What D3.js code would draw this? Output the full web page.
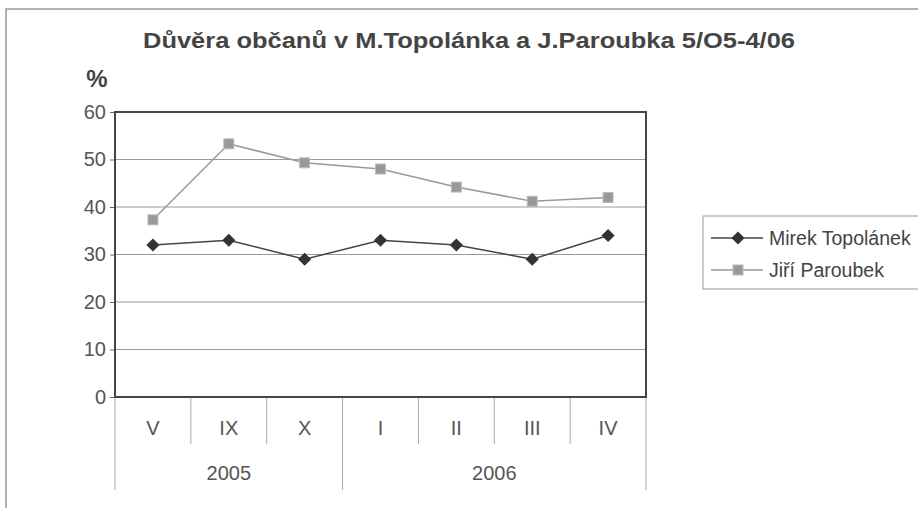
<!DOCTYPE html>
<html>
<head>
<meta charset="utf-8">
<script src="https://cdn.jsdelivr.net/npm/d3@7"></script>
<style>
  body { margin: 0; background: #fff; }
  svg text { font-family: "Liberation Sans", Arial, sans-serif; }
</style>
</head>
<body>
<div id="chart"></div>
<script>
// data
const months = ["V", "IX", "X", "I", "II", "III", "IV"];
const years = [{ label: "2005", from: 0, to: 3 }, { label: "2006", from: 3, to: 7 }];
const topolanek = [32, 33, 29, 33, 32, 29, 34];
const paroubek = [37.3, 53.3, 49.3, 48, 44.2, 41.2, 42];
const seriesNames = ["Mirek Topolánek", "Jiří Paroubek"];
const yTicks = [0, 10, 20, 30, 40, 50, 60];

const W = 918, H = 508;
const margin = { left: 115, right: 272, top: 112, bottom: 111 };
const width = W - margin.left - margin.right;
const height = H - margin.top - margin.bottom;

const svg = d3.select("#chart").append("svg")
    .attr("width", W).attr("height", H);

// outer chart frame (cut at right/bottom)
svg.append("path")
    .attr("d", `M6,${H + 2}V9H${W + 2}`)
    .attr("fill", "none").attr("stroke", "#999").attr("stroke-width", 1.5);

svg.append("text")
    .attr("x", 469).attr("y", 48)
    .attr("text-anchor", "middle")
    .attr("font-size", 22).attr("font-weight", "bold")
    .attr("fill", "#444")
    .attr("textLength", 652).attr("lengthAdjust", "spacingAndGlyphs")
    .text("Důvěra občanů v M.Topolánka a J.Paroubka 5/O5-4/06");

svg.append("text")
    .attr("x", 97).attr("y", 87)
    .attr("text-anchor", "middle")
    .attr("font-size", 24).attr("font-weight", "bold")
    .attr("fill", "#444")
    .text("%");

const g = svg.append("g").attr("transform", `translate(${margin.left},${margin.top})`);

const x = d3.scaleBand().domain(d3.range(months.length)).range([0, width]);
const y = d3.scaleLinear().domain([0, 60]).range([height, 0]);

// gridlines
g.selectAll(".grid").data(yTicks.filter(d => d > 0 && d < 60)).join("line")
    .attr("x1", 0).attr("x2", width)
    .attr("y1", d => y(d)).attr("y2", d => y(d))
    .attr("stroke", "#999").attr("stroke-width", 1);

// y axis
const yAxis = g.append("g").call(d3.axisLeft(y).tickValues(yTicks).tickSize(5).tickPadding(4));
yAxis.select(".domain").remove();
yAxis.selectAll(".tick line").attr("stroke", "#666");
yAxis.selectAll(".tick text").attr("font-size", 20).attr("fill", "#555")
    .attr("font-family", "Liberation Sans, Arial, sans-serif");

// category axis: month separators and labels
const bottom = g.append("g").attr("transform", `translate(0,${height})`);
bottom.selectAll(".msep").data(d3.range(months.length + 1)).join("line")
    .attr("x1", i => i === months.length ? width : x(i))
    .attr("x2", i => i === months.length ? width : x(i))
    .attr("y1", 0)
    .attr("y2", i => years.some(yr => yr.from === i || yr.to === i) ? 93 : 47)
    .attr("stroke", "#aaa").attr("stroke-width", 1);
bottom.selectAll(".mlab").data(months).join("text")
    .attr("x", (d, i) => x(i) + x.bandwidth() / 2).attr("y", 38)
    .attr("text-anchor", "middle").attr("font-size", 20).attr("fill", "#555")
    .text(d => d);
bottom.selectAll(".ylab").data(years).join("text")
    .attr("x", d => (x(d.from) + (d.to === months.length ? width : x(d.to))) / 2)
    .attr("y", 83)
    .attr("text-anchor", "middle").attr("font-size", 20).attr("fill", "#555")
    .text(d => d.label);

// plot border
g.append("rect").attr("width", width).attr("height", height)
    .attr("fill", "none").attr("stroke", "#444").attr("stroke-width", 2);

const line = d3.line().x((d, i) => x(i) + x.bandwidth() / 2).y(d => y(d));

// Paroubek
g.append("path").datum(paroubek).attr("d", line)
    .attr("fill", "none").attr("stroke", "#999").attr("stroke-width", 1.5);
g.selectAll(".sq").data(paroubek).join("rect")
    .attr("x", (d, i) => x(i) + x.bandwidth() / 2 - 5)
    .attr("y", d => y(d) - 5)
    .attr("width", 10).attr("height", 10)
    .attr("fill", "#999").attr("stroke", "#bbb").attr("stroke-width", 1);

// Topolánek
g.append("path").datum(topolanek).attr("d", line)
    .attr("fill", "none").attr("stroke", "#444").attr("stroke-width", 1.5);
const diamond = d3.symbol().type(d3.symbolDiamond2).size(110);
g.selectAll(".dm").data(topolanek).join("path")
    .attr("transform", (d, i) => `translate(${x(i) + x.bandwidth() / 2},${y(d)})`)
    .attr("d", diamond)
    .attr("fill", "#333");

// legend
const lg = svg.append("g").attr("transform", "translate(703,216)");
lg.append("rect").attr("width", 230).attr("height", 73)
    .attr("fill", "#fff").attr("stroke", "#999").attr("stroke-width", 1);
const items = [
    { name: seriesNames[0], stroke: "#444", marker: "diamond" },
    { name: seriesNames[1], stroke: "#999", marker: "square" }
];
items.forEach((it, i) => {
    const yy = 22 + i * 32;
    lg.append("line").attr("x1", 8).attr("x2", 60).attr("y1", yy).attr("y2", yy)
        .attr("stroke", it.stroke).attr("stroke-width", 1.5);
    if (it.marker === "diamond") {
        lg.append("path").attr("transform", `translate(35,${yy})`).attr("d", diamond).attr("fill", "#333");
    } else {
        lg.append("rect").attr("x", 30).attr("y", yy - 5).attr("width", 10).attr("height", 10)
            .attr("fill", "#999").attr("stroke", "#bbb");
    }
    lg.append("text").attr("x", 66).attr("y", yy + 7)
        .attr("font-size", 19.5).attr("fill", "#444").text(it.name);
});
</script>
</body>
</html>
